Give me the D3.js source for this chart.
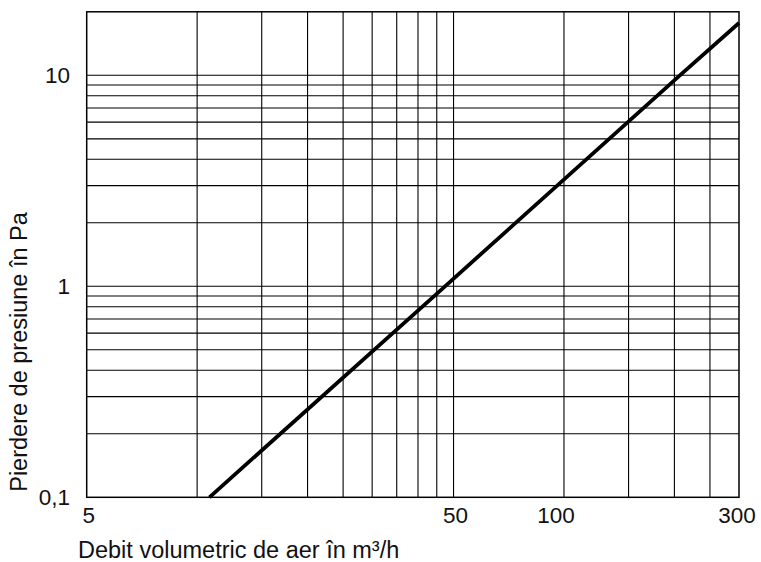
<!DOCTYPE html>
<html><head><meta charset="utf-8">
<script src="https://cdn.jsdelivr.net/npm/d3@7"></script>
<style>
body{margin:0;background:#fff;}
svg{display:block;font-family:"Liberation Sans",Arial,sans-serif;}
</style></head>
<body>
<svg id="chart" width="761" height="562"></svg>
<script>
// Data
const xDomain = [5, 300];
const yDomain = [0.1, 20];
const xGridValues = [10, 15, 20, 25, 30, 35, 40, 45, 50, 100, 150, 200, 250];
const yGridValues = [0.2, 0.3, 0.4, 0.5, 0.6, 0.7, 0.8, 0.9, 1, 2, 3, 4, 5, 6, 7, 8, 9, 10];
const xTickValues = [5, 50, 100, 300];
const xTickLabels = ["5", "50", "100", "300"];
const yTickValues = [0.1, 1, 10];
const yTickLabels = ["0,1", "1", "10"];
const flowRate = [10.8, 47.4, 207, 300];
const pressureLoss = [0.1, 1, 10, 17.7];
const xTitle = "Debit volumetric de aer în m³/h";
const yTitle = "Pierdere de presiune în Pa";

const svg = d3.select("#chart");
const L = 86.7, R = 739, T = 11.8, B = 497.3;
const x = d3.scaleLog().domain(xDomain).range([L, R]);
const y = d3.scaleLog().domain(yDomain).range([B, T]);

const g = svg.append("g");
g.selectAll("line.vg").data(xGridValues).join("line")
  .attr("class","vg")
  .attr("x1", d => x(d)).attr("x2", d => x(d))
  .attr("y1", T).attr("y2", B)
  .attr("stroke", "#000").attr("stroke-width", 1.1);
g.selectAll("line.hg").data(yGridValues).join("line")
  .attr("class","hg")
  .attr("x1", L).attr("x2", R)
  .attr("y1", d => y(d)).attr("y2", d => y(d))
  .attr("stroke", "#000").attr("stroke-width", 1.1);

g.append("rect").attr("x", L).attr("y", T).attr("width", R - L).attr("height", B - T)
  .attr("fill", "none").attr("stroke", "#000").attr("stroke-width", 1.5);

const pts = flowRate.map((v, i) => [v, pressureLoss[i]]);
g.append("path").datum(pts)
  .attr("d", d3.line().x(d => x(d[0])).y(d => y(d[1])))
  .attr("fill", "none").attr("stroke", "#000").attr("stroke-width", 3.8);

// small label nudges to mimic the original placement
const xLabelNudge = v => v === 100 ? -8 : (v === 300 ? -2 : 2);
svg.selectAll("text.xt").data(xTickValues).join("text")
  .attr("class","xt")
  .attr("x", d => x(d) + xLabelNudge(d)).attr("y", 523)
  .attr("text-anchor", "middle").attr("font-size", 22.5).attr("fill", "#111")
  .text((d, i) => xTickLabels[i]);
svg.selectAll("text.yt").data(yTickValues).join("text")
  .attr("class","yt")
  .attr("x", 70).attr("y", d => y(d) + 7.5)
  .attr("text-anchor", "end").attr("font-size", 22.5).attr("fill", "#111")
  .text((d, i) => yTickLabels[i]);

svg.append("text").attr("x", 78).attr("y", 558)
  .attr("font-size", 23.5).attr("fill", "#111").text(xTitle);
svg.append("text").attr("transform", "translate(27,352) rotate(-90)")
  .attr("text-anchor", "middle").attr("font-size", 23.5).attr("fill", "#111").text(yTitle);
</script>
</body></html>
